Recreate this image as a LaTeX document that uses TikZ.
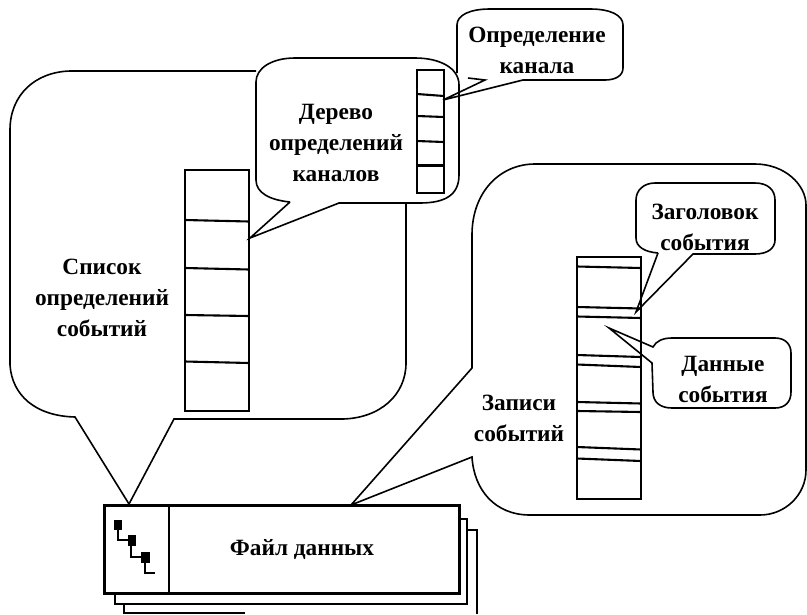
\documentclass[tikz,border=0pt]{standalone}
\usepackage{fontspec}
\setmainfont{Liberation Serif}
\tikzset{
  callout/.style={line width=1.6pt,line join=miter},
  frame/.style={line width=2.6pt,line join=miter},
  rule/.style={line width=2.1pt},
  thin link/.style={line width=1.4pt},
  label/.style={font=\fontsize{23.3}{31}\selectfont\bfseries,align=center,inner sep=0pt,text=black},
  block/.style={fill=black,draw=none}
}
\begin{document}
\begin{tikzpicture}[x=1pt,y=-1pt]
\useasboundingbox (0,0) rectangle (807,614);
\fill[white] (0,0) rectangle (807,614);
% tail tips
\coordinate (tipList) at (129,504);
\coordinate (tipTree) at (250,238);
\coordinate (tipChan) at (443,100);
\coordinate (tipRec) at (351,505);
\coordinate (tipHead) at (636,312);
\coordinate (tipData) at (609,328);
% big list callout
\draw[callout] (256,71) -- (70,71) .. controls (35,72) and (10,95) .. (10,130) -- (10,365)
  .. controls (12,395) and (35,416) .. (75,417) -- (tipList) -- (174,419) -- (343,419)
  .. controls (380,418) and (406,395) .. (406,363) -- (406,204);
% tree callout
\draw[callout] (290,202) -- (tipTree) -- (339,203) -- (420,203)
  .. controls (445,203) and (459,195) .. (459,175) -- (459,85)
  .. controls (459,68) and (440,58) .. (415,58) -- (295,58)
  .. controls (272,58) and (256,68) .. (256,82) -- (256,180)
  .. controls (256,193) and (270,200) .. (290,202);
% channel callout
\draw[callout] (457,73) -- (457,25) .. controls (457,15) and (470,9) .. (490,9) -- (590,9)
  .. controls (610,9) and (623,15) .. (623,25) -- (623,68)
  .. controls (623,76) and (615,80) .. (605,80) -- (523,80) -- (tipChan) -- (485,80) -- (468,78);
% records callout
\draw[callout] (472,368) -- (472,235) .. controls (472,192) and (500,164) .. (535,164) -- (755,164)
  .. controls (785,164) and (806,185) .. (806,205) -- (806,470)
  .. controls (806,495) and (785,515) .. (760,515) -- (530,515)
  .. controls (495,515) and (474,490) .. (472,457) -- (tipRec) -- cycle;
% header callout
\draw[callout] (658,253) -- (tipHead) -- (693,254) -- (755,254)
  .. controls (768,254) and (775,248) .. (775,240) -- (775,200)
  .. controls (775,190) and (768,183) .. (755,183) -- (655,183)
  .. controls (644,183) and (636,190) .. (636,200) -- (636,238)
  .. controls (636,247) and (645,252) .. (658,253);
% data callout
\draw[callout] (653,347) .. controls (656,341) and (663,338) .. (672,338) -- (775,338)
  .. controls (785,338) and (791,344) .. (791,353) -- (791,392)
  .. controls (791,402) and (785,408) .. (775,408) -- (672,408)
  .. controls (660,408) and (653,402) .. (653,392) -- (652,363) -- (tipData) -- cycle;
% list of event definitions
\draw[frame] (185,170) rectangle (249,411);
\draw[rule] (185,220) -- (249,221.5);
\draw[rule] (185,268) -- (249,269.5);
\draw[rule] (185,315) -- (249,316);
\draw[rule] (185,361.5) -- (249,363);
% channel tree list
\draw[frame] (417,70) rectangle (444,193);
\draw[rule] (417,94) -- (444,96);
\draw[rule] (417,116) -- (444,117);
\draw[rule] (417,141) -- (444,142);
\draw[rule] (417,165.5) -- (444,165.5);
% records list
\draw[frame] (577,257) rectangle (641,499);
\draw[rule] (577,266.5) -- (641,268);
\draw[rule] (577,307) -- (641,308.5);
\draw[rule] (577,316.5) -- (641,318);
\draw[rule] (577,355) -- (641,357);
\draw[rule] (577,364.5) -- (641,367);
\draw[rule] (577,402) -- (641,403.5);
\draw[rule] (577,411) -- (641,412);
\draw[rule] (577,447) -- (641,449.5);
\draw[rule] (577,458.5) -- (641,461);
% file stack
\draw[frame] (458,530) -- (477,530) -- (477,614);
\draw[frame] (124,604) -- (124,613) -- (245,613);
\draw[frame,fill=white] (458,519) -- (467,519) -- (467,604) -- (115,604) -- (115,592);
\node[frame,draw,minimum width=355pt,minimum height=88pt,inner sep=0pt,anchor=north west] (file) at (103,504) {};
\node[label] (fileText) at (302,549) {Файл данных};
\coordinate (divTop) at (169,504);
\coordinate (divBot) at (169,592);
\draw[frame] (divTop) -- (divBot);
% icon
\fill[block] (114,520) rectangle (122,530);
\fill[block] (128,535) rectangle (136,546);
\fill[block] (141,552) rectangle (150,563);
\draw[thin link] (118,530) -- (118,540) -- (128,540);
\draw[thin link] (131,546) -- (131,557) -- (141,557);
\draw[thin link] (145,563) -- (145,573) -- (155,573);
% texts
\node[label] (tChan) at (537,50) {Определение\\канала};
\node[label] (tTree) at (336,142.5) {Дерево\\определений\\каналов};
\node[label] (tList) at (102,298) {Список\\определений\\событий};
\node[label] (tRec) at (519,418) {Записи\\событий};
\node[label] (tHead) at (705,227.5) {Заголовок\\события};
\node[label] (tData) at (723,379) {Данные\\события};
\end{tikzpicture}
\end{document}
